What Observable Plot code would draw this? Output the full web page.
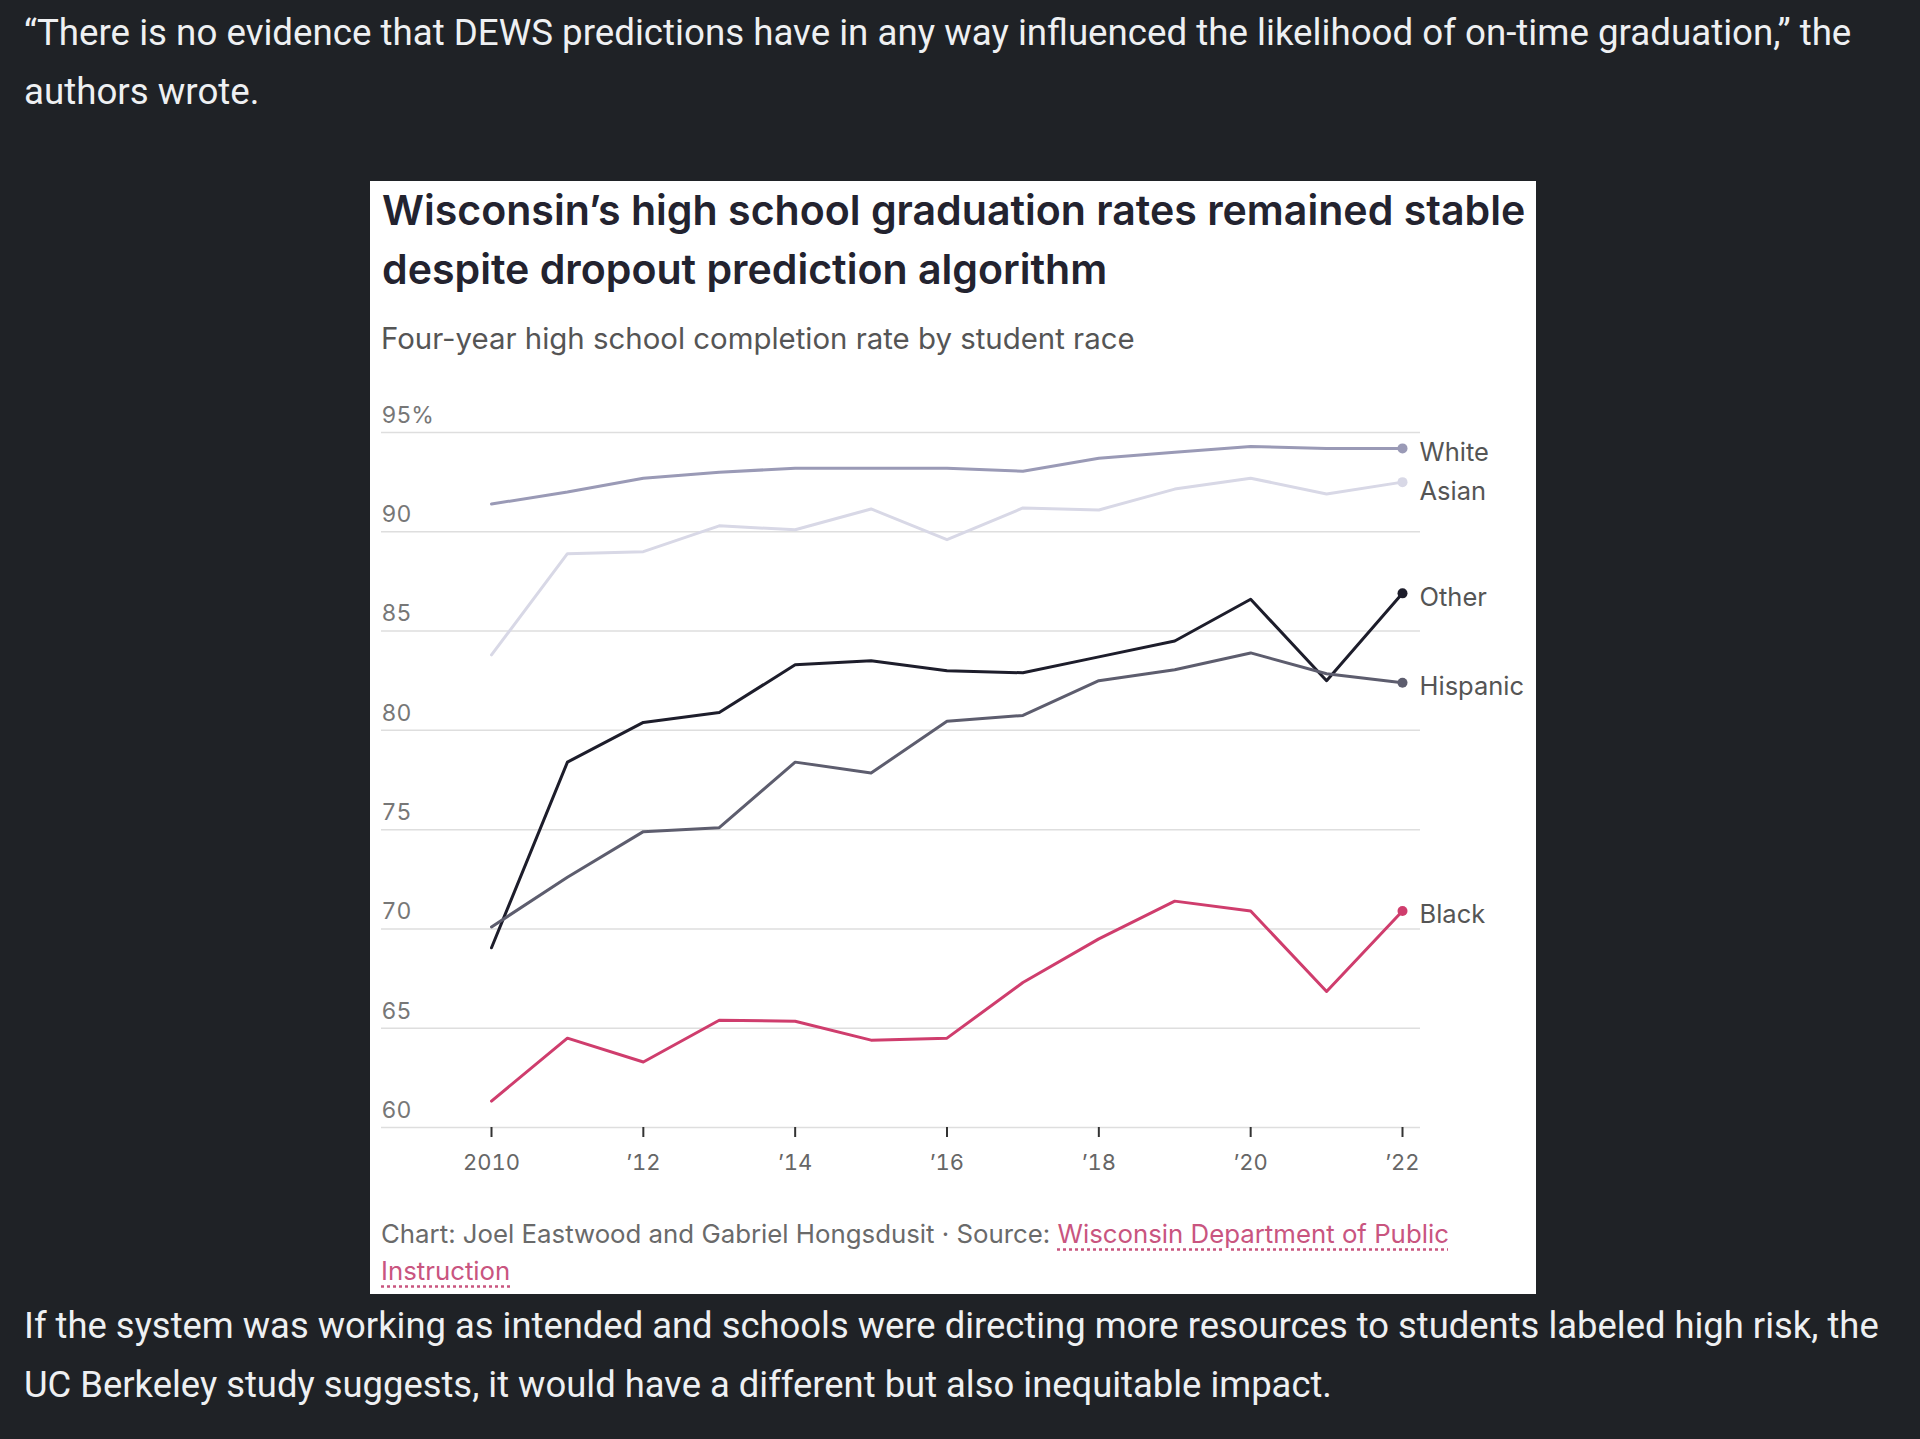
<!DOCTYPE html>
<html>
<head>
<meta charset="utf-8">
<script src="https://cdn.jsdelivr.net/npm/d3@7"></script>
<script src="https://cdn.jsdelivr.net/npm/@observablehq/plot@0.6"></script>
<style>
  html, body { margin:0; padding:0; }
  body { width:1920px; height:1439px; background:#1f2226; position:relative; overflow:hidden; font-family:Roboto, "Noto Sans", sans-serif; }
  .para { position:absolute; left:24px; color:#eef0f2; font-size:36.5px; line-height:59px; white-space:nowrap; }
  #box { position:absolute; left:370px; top:181px; width:1166px; height:1113px; background:#fff; }
  #title { position:absolute; left:12px; top:0px; font-family:Inter, sans-serif; font-weight:600; font-size:41.1px; line-height:59px; color:#23232f; white-space:nowrap; }
  #subtitle { position:absolute; left:11px; top:140px; font-family:Inter, sans-serif; font-size:29.4px; line-height:36px; color:#555; white-space:nowrap; }
  #chart { position:absolute; left:0; top:209px; }
  #caption { position:absolute; left:11px; top:1034px; font-family:Inter, sans-serif; font-size:25.8px; line-height:37px; color:#6a6a6a; white-space:nowrap; }
  #caption a { color:#c9557f; text-decoration:underline dotted; text-underline-offset:5px; }
</style>
</head>
<body>
<div class="para" style="top:3px; font-size:36.7px">“There is no evidence that DEWS predictions have in any way influenced the likelihood of on-time graduation,” the<br>authors wrote.</div>
<div id="box">
  <div id="title">Wisconsin’s high school graduation rates remained stable<br>despite dropout prediction algorithm</div>
  <div id="subtitle">Four-year high school completion rate by student race</div>
  <div id="chart"></div>
  <div id="caption">Chart: Joel Eastwood and Gabriel Hongsdusit · Source: <a>Wisconsin Department of Public<br>Instruction</a></div>
</div>
<div class="para" style="top:1296px; font-size:36.4px">If the system was working as intended and schools were directing more resources to students labeled high risk, the<br>UC Berkeley study suggests, it would have a different but also inequitable impact.</div>
<script>
const years = [2010, 2011, 2012, 2013, 2014, 2015, 2016, 2017, 2018, 2019, 2020, 2021, 2022];
const seriesNames = ["White", "Asian", "Other", "Hispanic", "Black"];
const white    = [91.4, 92.0, 92.7, 93.0, 93.2, 93.2, 93.2, 93.05, 93.7, 94.0, 94.3, 94.2, 94.2];
const asian    = [83.8, 88.9, 89.0, 90.3, 90.1, 91.15, 89.6, 91.2, 91.1, 92.15, 92.7, 91.9, 92.5];
const other    = [69.05, 78.4, 80.4, 80.9, 83.3, 83.5, 83.0, 82.9, 83.7, 84.5, 86.6, 82.5, 86.9];
const hispanic = [70.1, 72.6, 74.9, 75.1, 78.4, 77.85, 80.46, 80.75, 82.5, 83.05, 83.9, 82.85, 82.4];
const black    = [61.33, 64.5, 63.3, 65.4, 65.35, 64.4, 64.5, 67.3, 69.5, 71.4, 70.9, 66.85, 70.9];
const seriesColors = ["#9a9ab6", "#d8d8e6", "#1d1d2b", "#5d5d6e", "#cf3d6d"];
const yTicks = [60, 65, 70, 75, 80, 85, 90, 95];
const xTicks = [2010, 2012, 2014, 2016, 2018, 2020, 2022];

const valuesBySeries = {White: white, Asian: asian, Other: other, Hispanic: hispanic, Black: black};
const rows = [];
for (const s of seriesNames) years.forEach((yr, i) => rows.push({series: s, year: yr, value: valuesBySeries[s][i]}));
const lastRows = rows.filter(d => d.year === years[years.length - 1]);

const chart = Plot.plot({
  width: 1166,
  height: 800,
  marginLeft: 121,
  marginRight: 134,
  marginTop: 42,
  marginBottom: 63,
  x: {type: "linear", domain: [2010, 2022]},
  y: {domain: [60, 95]},
  color: {domain: seriesNames, range: seriesColors},
  style: {fontFamily: "Inter, sans-serif", background: "transparent", overflow: "visible"},
  marks: [
    Plot.ruleY(yTicks, {stroke: "#dedede", strokeWidth: 1.5, insetLeft: -110, insetRight: -18}),
    Plot.axisY({ticks: yTicks, tickSize: 0, tickPadding: 0, textAnchor: "start", dx: -110, dy: -17, fontSize: 23, fill: "#777", tickFormat: d => d === 95 ? "95%" : String(d), label: null}),
    Plot.axisX({ticks: xTicks, tickSize: 10, tickPadding: 17, stroke: "#333", strokeWidth: 2, fontSize: 22, fill: "#666", tickFormat: d => d === 2010 ? "2010" : "’" + String(d).slice(2), label: null}),
    Plot.line(rows, {x: "year", y: "value", stroke: "series", z: "series", strokeWidth: 3}),
    Plot.dot(lastRows, {x: "year", y: "value", fill: "series", r: 5}),
    Plot.text(lastRows.filter(d => d.series !== "Asian"), {x: "year", y: "value", text: "series", dx: 17, dy: 4, textAnchor: "start", fontSize: 25.5, fill: "#555"}),
    Plot.text(lastRows.filter(d => d.series === "Asian"), {x: "year", y: "value", text: "series", dx: 17, dy: 10, textAnchor: "start", fontSize: 25.5, fill: "#555"})
  ]
});
document.getElementById("chart").appendChild(chart);
</script>
</body>
</html>
